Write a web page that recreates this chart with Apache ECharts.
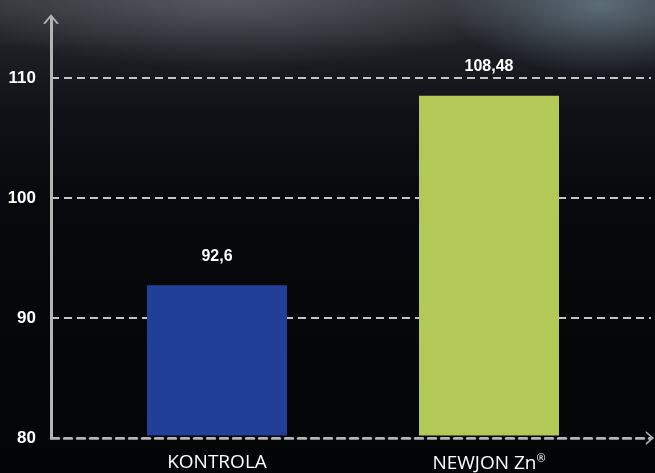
<!DOCTYPE html>
<html>
<head>
<meta charset="utf-8">
<script src="https://cdn.jsdelivr.net/npm/echarts@6/dist/echarts.min.js"></script>
<style>
html,body{margin:0;padding:0;width:655px;height:473px;overflow:hidden;background:#030405;}
#bg{position:absolute;left:0;top:0;width:655px;height:473px;
background:
 radial-gradient(ellipse 150px 70px at 600px 5px, rgba(125,155,170,0.55), rgba(0,0,0,0) 100%),
 radial-gradient(ellipse 300px 70px at 230px 0px, rgba(120,122,130,0.5), rgba(0,0,0,0) 100%),
 linear-gradient(to bottom, #34353b 0px, #1d1e24 50px, #101218 110px, #08090c 200px, #030405 473px);}
#chart{position:absolute;left:0;top:0;width:655px;height:473px;}
</style>
</head>
<body>
<div id="bg"></div>
<div id="chart"></div>
<script>
const categories = ['KONTROLA', 'NEWJON Zn®'];
const values = [92.6, 108.48];
const barColors = ['#223f98', '#b3c957'];
const yTicks = [80, 90, 100, 110];

const chart = echarts.init(document.getElementById('chart'), null, {renderer: 'canvas'});
const chevron = 'path://M0,12 L10,0 L20,12 L17,12 L10,3.6 L3,12 Z';
const axisColor = '#b4b4b4';
chart.setOption({
  backgroundColor: 'transparent',
  animation: false,
  grid: [
    {left: 81, right: 30, top: 18, bottom: 35, containLabel: false},
    {left: 51, right: 4, top: 18, bottom: 35, containLabel: false}
  ],
  xAxis: [
    {type: 'category', gridIndex: 0, data: categories,
     axisLine: {show: false}, axisTick: {show: false},
     axisLabel: {color: '#ffffff', fontFamily: 'Open Sans', fontSize: 19, margin: 18,
       formatter: v => v.includes('®') ? v.replace('®', '') + '{sup|®}' : v,
       rich: {sup: {fontSize: 11, color: '#ffffff', fontFamily: 'Open Sans', padding: [0, 0, 9, 0]}}}},
    {type: 'value', gridIndex: 1, min: 0, max: 100,
     axisLine: {show: true, symbol: ['none', chevron], symbolSize: [14, 11], symbolOffset: [0, -1],
       lineStyle: {color: axisColor, width: 2.5, type: [8, 5]}},
     axisTick: {show: false}, axisLabel: {show: false}, splitLine: {show: false}}
  ],
  yAxis: [
    {type: 'value', gridIndex: 0, min: 80, max: 115, show: false},
    {type: 'value', gridIndex: 1, min: 80, max: 115, interval: 10,
     axisLine: {show: true, symbol: ['none', chevron], symbolSize: [16, 12], symbolOffset: [0, -1],
       lineStyle: {color: axisColor, width: 3}},
     axisTick: {show: false},
     axisLabel: {color: '#ffffff', fontFamily: 'Liberation Sans', fontWeight: 'bold', fontSize: 17, margin: 15,
       formatter: v => yTicks.includes(v) ? String(v) : ''},
     splitLine: {show: true, showMaxLine: false, lineStyle: {color: '#c4c4c4', width: 2, type: [8, 5]}}}
  ],
  series: [{
    type: 'bar', xAxisIndex: 0, yAxisIndex: 0,
    data: values.map((v, i) => ({value: v, itemStyle: {color: barColors[i]}})),
    barWidth: 140,
    label: {show: true, position: 'top', distance: 21, color: '#ffffff', fontFamily: 'Liberation Sans',
      fontWeight: 'bold', fontSize: 16, formatter: p => String(p.value).replace('.', ',')}
  }]
});
</script>
</body>
</html>
